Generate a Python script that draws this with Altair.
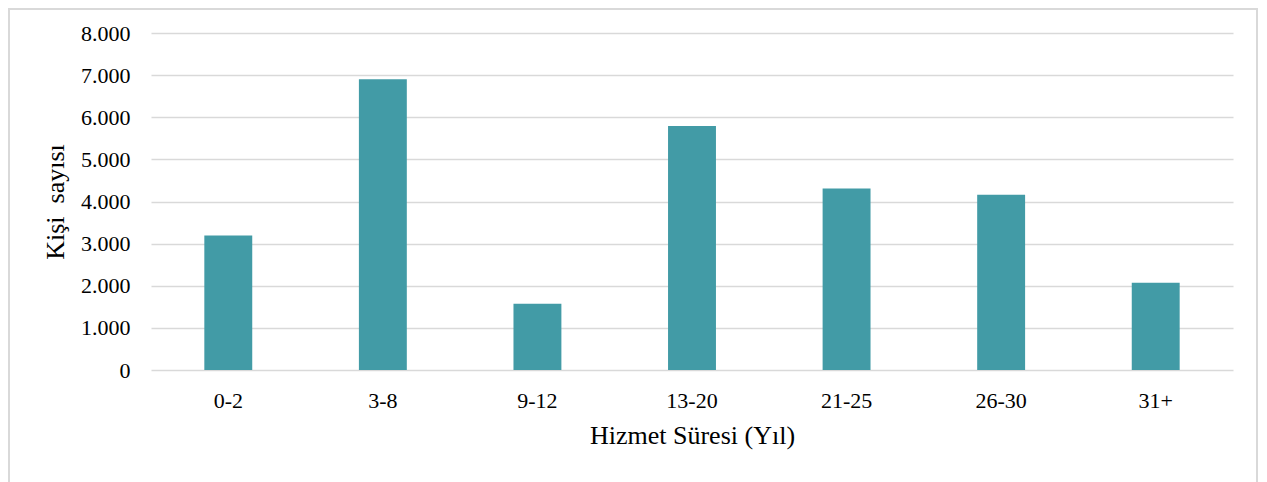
import altair as alt
import pandas as pd

categories = ["0-2", "3-8", "9-12", "13-20", "21-25", "26-30", "31+"]
values = [3190, 6900, 1570, 5790, 4310, 4160, 2070]

df = pd.DataFrame({"cat": categories, "val": values})

W, H = 1082, 337
FONT = "Liberation Serif"

bars = alt.Chart(df).mark_bar(color="#429BA6").encode(
    x=alt.X(
        "cat:N",
        sort=categories,
        scale=alt.Scale(paddingInner=0.69, paddingOuter=0.345),
        axis=alt.Axis(
            title="Hizmet Süresi (Yıl)",
            labelAngle=0,
            domain=False,
            ticks=False,
            tickSize=0,
            labelPadding=37,
            labelBaseline="alphabetic",
            labelFontSize=22,
            labelFont=FONT,
            labelColor="#000000",
            titleFont=FONT,
            titleFontSize=26,
            titleFontWeight="normal",
            titleColor="#000000",
            titleY=73,
            titleBaseline="alphabetic",
        ),
    ),
    y=alt.Y(
        "val:Q",
        scale=alt.Scale(domain=[0, 8000]),
        axis=alt.Axis(
            title="Kişi\u00a0 sayısı",
            values=[0, 1000, 2000, 3000, 4000, 5000, 6000, 7000, 8000],
            labelExpr="replace(format(datum.value, ','), ',', '.')",
            domain=False,
            ticks=False,
            tickSize=0,
            labelPadding=21,
            labelFontSize=22,
            labelFont=FONT,
            labelColor="#000000",
            grid=True,
            gridColor="#d9d9d9",
            gridWidth=1.5,
            titleFont=FONT,
            titleFontSize=26,
            titleFontWeight="normal",
            titleColor="#000000",
            titleX=-96,
            titleBaseline="middle",
            titleAlign="center",
        ),
    ),
)

border = alt.Chart(pd.DataFrame({"a": [0]})).mark_rect(
    fill=None, stroke="#d9d9d9", strokeWidth=2
).encode(
    x=alt.value(-142),
    x2=alt.value(1106),
    y=alt.value(-24),
    y2=alt.value(H + 160),
)

chart = alt.layer(bars, border).properties(
    width=W,
    height=H,
    autosize=alt.AutoSizeParams(type="none"),
    padding={"left": 143, "top": 25, "right": 26, "bottom": 140},
    background="white",
).configure_view(stroke=None)

chart.save("out.html", embed_options={"renderer": "svg", "actions": False})
